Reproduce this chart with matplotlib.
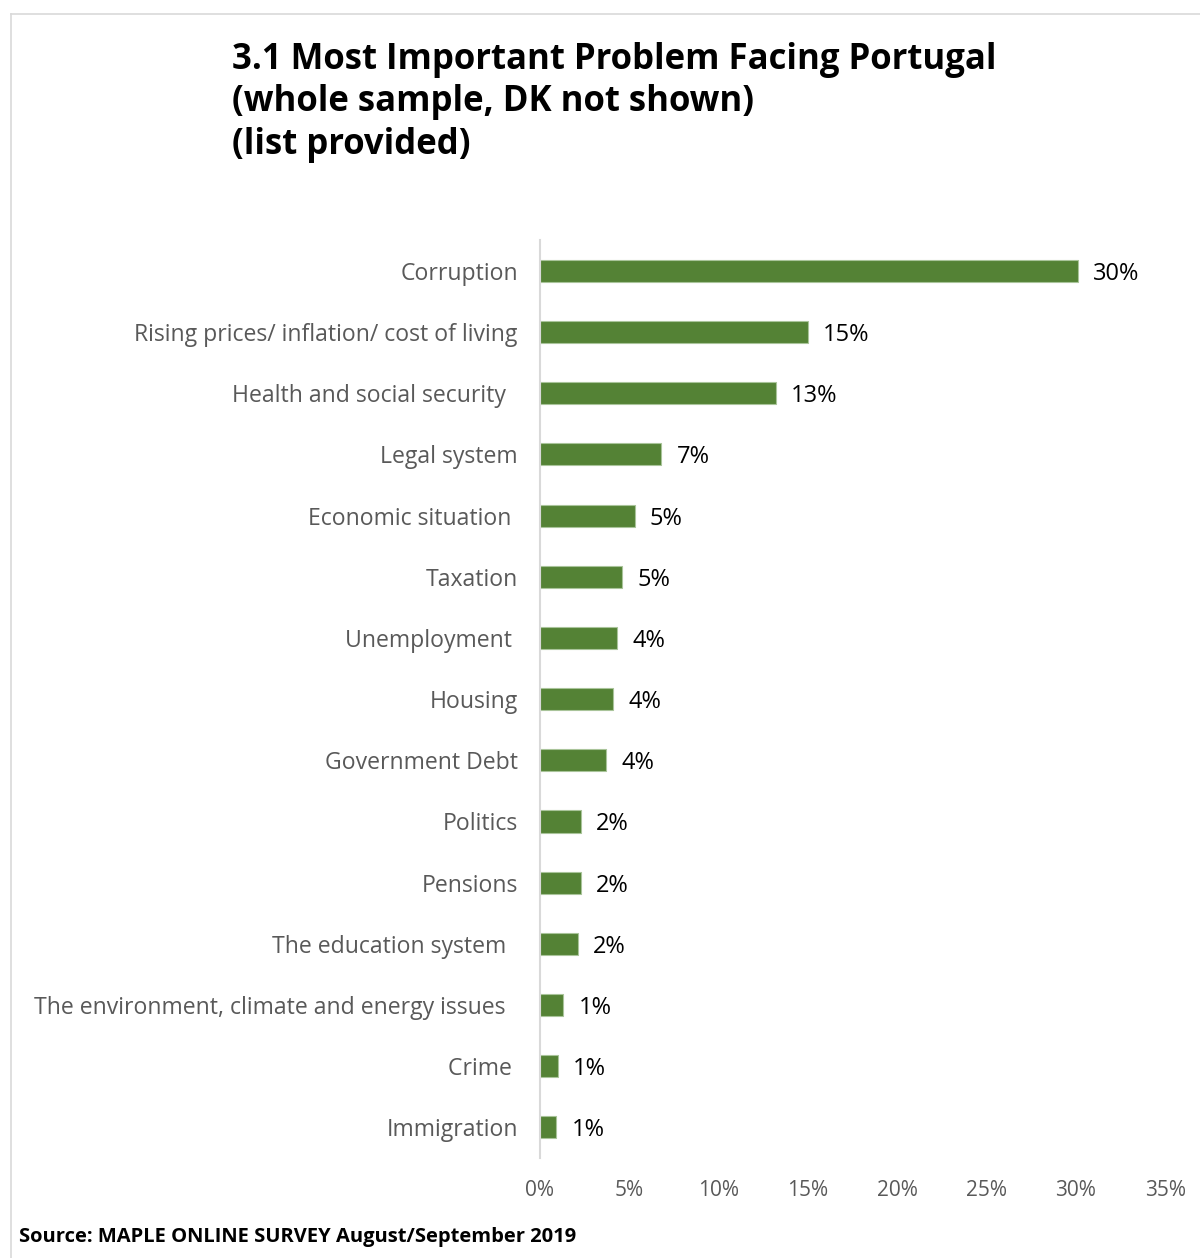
import matplotlib.pyplot as plt
from matplotlib.lines import Line2D

plt.rcParams['font.family'] = ['Open Sans', 'DejaVu Sans']

problems = ['Corruption', 'Rising prices/ inflation/ cost of living',
            'Health and social security  ', 'Legal system',
            'Economic situation ', 'Taxation', 'Unemployment ', 'Housing',
            'Government Debt', 'Politics', 'Pensions',
            'The education system  ',
            'The environment, climate and energy issues  ',
            'Crime ', 'Immigration']
share = [30.1, 15.0, 13.2, 6.8, 5.3, 4.6, 4.3, 4.1, 3.7, 2.3, 2.3, 2.1, 1.3, 1.0, 0.9]
ticks = [0, 5, 10, 15, 20, 25, 30, 35]

fig = plt.figure(figsize=(12, 12.58), dpi=100)
ax = fig.add_axes([0.45, 0.0795, 0.521, 0.7295])

pos = list(range(len(problems)))
ax.barh(pos, share, height=0.36, color='#548235', edgecolor='#a9c49a', linewidth=0.8)
for y, v in zip(pos, share):
    ax.annotate(f'{round(v)}%', (v, y), xytext=(11, 0), textcoords='offset points',
                va='center_baseline', ha='left', fontsize=17, color='black')

ax.set_ylim(len(problems) - 0.5, -0.5)
ax.set_xlim(0, 35)
ax.set_yticks(pos)
ax.set_yticklabels(problems, fontsize=16.6, color='#595959')
ax.set_xticks(ticks)
ax.set_xticklabels([f'{t}%' for t in ticks], fontsize=15, color='#595959')
ax.tick_params(length=0, axis='y', pad=16)
ax.tick_params(length=0, axis='x', pad=16)
for s in ['top', 'right', 'bottom']:
    ax.spines[s].set_visible(False)
ax.spines['left'].set_color('#d9d9d9')
ax.spines['left'].set_linewidth(1.5)

fig.text(0.193, 0.967, '3.1 Most Important Problem Facing Portugal\n(whole sample, DK not shown)\n(list provided)',
         fontsize=25, fontweight='bold', va='top', ha='left', linespacing=1.25)
fig.text(0.016, 0.017, 'Source: MAPLE ONLINE SURVEY August/September 2019',
         fontsize=14.5, fontweight='bold', va='center', ha='left')

# light frame (top and left edges)
fig.add_artist(Line2D([0.009, 1.0], [0.989, 0.989], color='#d9d9d9', lw=1.2, transform=fig.transFigure))
fig.add_artist(Line2D([0.009, 0.009], [0.0, 0.989], color='#d9d9d9', lw=1.2, transform=fig.transFigure))

fig.savefig('out.png', dpi=100)
